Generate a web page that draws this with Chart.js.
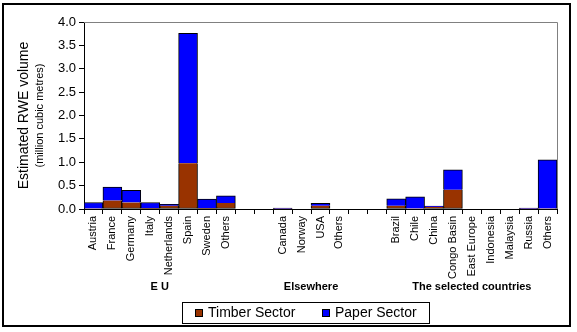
<!DOCTYPE html>
<html>
<head>
<meta charset="utf-8">
<script src="https://cdn.jsdelivr.net/npm/chart.js@4"></script>
<style>
  html, body { margin: 0; padding: 0; background: #fff; }
  #wrap { width: 577px; height: 332px; position: relative; }
</style>
</head>
<body>
<div id="wrap"><canvas id="rwe"></canvas></div>
<script>
const categories = ['Austria', 'France', 'Germany', 'Italy', 'Netherlands', 'Spain', 'Sweden', 'Others', '', '',
  'Canada', 'Norway', 'USA', 'Others', '', '',
  'Brazil', 'Chile', 'China', 'Congo Basin', 'East Europe', 'Indonesia', 'Malaysia', 'Russia', 'Others'];
const timberValues = [0.01, 0.18, 0.14, 0.02, 0.07, 0.98, 0.02, 0.13, null, null,
  0.01, 0, 0.07, 0, null, null,
  0.07, 0.01, 0.05, 0.41, 0, 0, 0, 0.01, 0.01];
const paperValues = [0.13, 0.29, 0.26, 0.12, 0.03, 2.78, 0.19, 0.15, null, null,
  0.01, 0, 0.05, 0, null, null,
  0.15, 0.25, 0.01, 0.43, 0, 0, 0, 0.01, 1.04];
const groupNames = ['E U', 'Elsewhere', 'The selected countries'];
const groupFirst = [0, 10, 16];
const groupLast = [7, 13, 24];
const yTicks = [0, 0.5, 1, 1.5, 2, 2.5, 3, 3.5, 4];

const FONT = '"Liberation Sans", Arial, sans-serif';
Chart.defaults.font.family = FONT;
Chart.defaults.color = '#000';

// frame, axis title, group names and boxed legend
const extras = {
  id: 'extras',
  beforeDraw(chart) {
    const c = chart.ctx;
    c.save();
    c.fillStyle = '#fff';
    c.fillRect(0, 0, chart.width, chart.height);
    c.restore();
  },
  afterDraw(chart) {
    const c = chart.ctx;
    const a = chart.chartArea;
    const x = chart.scales.x;
    c.save();
    // outer frame
    c.strokeStyle = '#000';
    c.lineWidth = 2;
    c.strokeRect(3, 4, 567, 322);
    // grey top/right plot edge
    c.strokeStyle = '#808080';
    c.lineWidth = 1;
    c.beginPath();
    c.moveTo(a.left, a.top + 0.5);
    c.lineTo(a.right + 0.5, a.top + 0.5);
    c.lineTo(a.right + 0.5, a.bottom);
    c.stroke();
    // y axis title
    c.fillStyle = '#000';
    c.textAlign = 'center';
    c.textBaseline = 'middle';
    const cy = (a.top + a.bottom) / 2;
    c.translate(24, cy);
    c.rotate(-Math.PI / 2);
    c.font = '14px ' + FONT;
    c.fillText('Estimated RWE volume', 0, 0);
    c.font = '11px ' + FONT;
    c.fillText('(million cubic metres)', 0, 16);
    c.setTransform(1, 0, 0, 1, 0, 0);
    // group names
    c.font = 'bold 11px ' + FONT;
    groupNames.forEach((g, i) => {
      const gx = (x.getPixelForValue(groupFirst[i]) + x.getPixelForValue(groupLast[i])) / 2;
      c.fillText(g, gx, 287);
    });
    // legend
    c.strokeStyle = '#000';
    c.lineWidth = 1;
    c.strokeRect(182.5, 302.5, 247, 21);
    c.textAlign = 'left';
    c.font = '14px ' + FONT;
    const lx = [195, 322];
    chart.data.datasets.forEach((ds, i) => {
      c.fillStyle = ds.backgroundColor;
      c.fillRect(lx[i], 309, 8, 8);
      c.strokeRect(lx[i] + 0.5, 309.5, 7, 7);
      c.fillStyle = '#000';
      c.fillText(ds.label, lx[i] + 13, 313.5);
    });
    c.restore();
  }
};

new Chart(document.getElementById('rwe'), {
  type: 'bar',
  data: {
    labels: categories,
    datasets: [
      { label: 'Timber Sector', data: timberValues, backgroundColor: '#993300',
        borderColor: '#000', borderWidth: 1, borderSkipped: 'end' },
      { label: 'Paper Sector', data: paperValues, backgroundColor: '#0000ff',
        borderColor: '#000', borderWidth: 1, borderSkipped: 'start' }
    ]
  },
  options: {
    responsive: true,
    maintainAspectRatio: false,
    animation: false,
    datasets: { bar: { categoryPercentage: 1, barPercentage: 1 } },
    layout: { padding: { left: 0, top: 22, right: 20, bottom: 0 } },
    plugins: { legend: { display: false }, tooltip: { enabled: false } },
    scales: {
      x: {
        stacked: true,
        grid: { offset: true, drawOnChartArea: false, drawTicks: true, tickLength: 5, color: '#000' },
        border: { color: '#000', width: 1 },
        ticks: { autoSkip: false, maxRotation: 90, minRotation: 90, padding: 2, font: { size: 11 } },
        afterFit(s) { s.height = 123; }
      },
      y: {
        stacked: true,
        min: 0,
        max: 4,
        afterBuildTicks(s) { s.ticks = yTicks.map(v => ({ value: v })); },
        grid: { drawOnChartArea: false, drawTicks: true, tickLength: 5, color: '#000' },
        border: { color: '#000', width: 1 },
        ticks: { padding: 3, font: { size: 13 }, callback: v => v.toFixed(1) },
        afterFit(s) { s.width = 84; }
      }
    }
  },
  plugins: [extras]
});
</script>
</body>
</html>
